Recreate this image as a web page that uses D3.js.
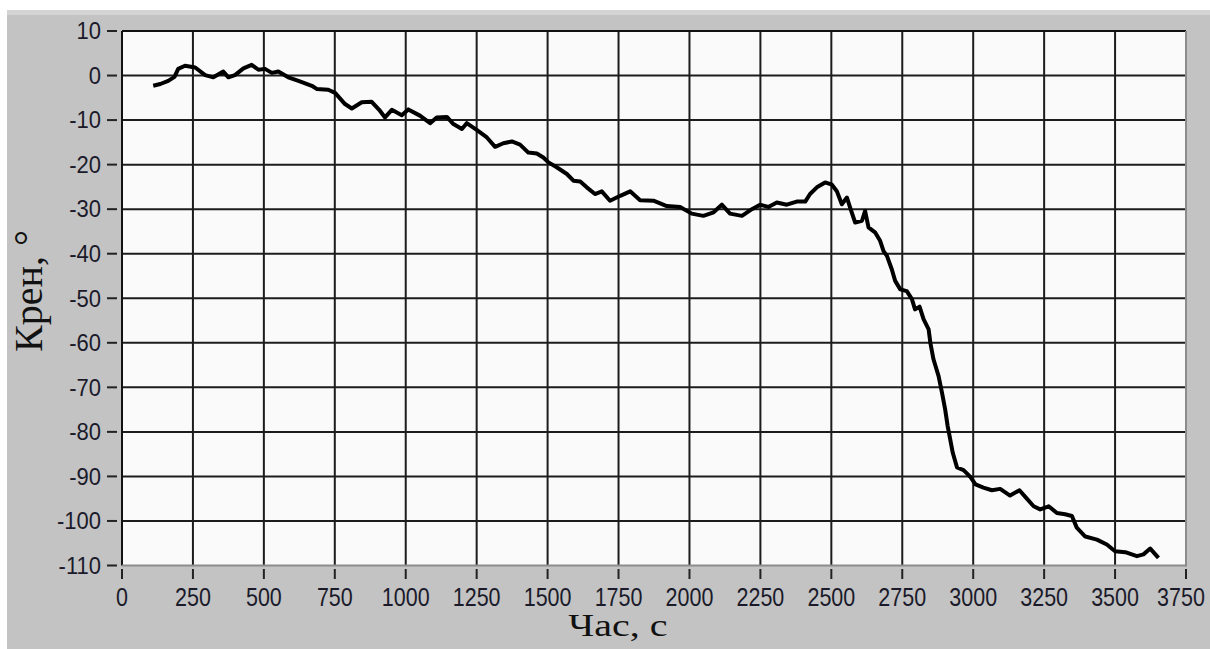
<!DOCTYPE html>
<html><head><meta charset="utf-8">
<script src="https://cdn.jsdelivr.net/npm/d3@7"></script>
<style>html,body{margin:0;padding:0;background:#fff;overflow:hidden}</style>
</head><body>
<svg id="c" width="1210" height="649"></svg>
<script>
const time = [110,135,163,185,198,222,258,293,322,357,375,398,428,457,481,504,528,551,586,622,669,686,727,751,786,810,845,880,909,927,951,986,1009,1050,1086,1109,1145,1168,1198,1215,1250,1286,1315,1344,1374,1403,1432,1462,1485,1503,1532,1568,1591,1615,1638,1667,1691,1720,1756,1791,1826,1873,1920,1967,2008,2049,2085,2114,2143,2185,2220,2249,2278,2308,2343,2378,2408,2425,2449,2478,2502,2519,2537,2555,2566,2584,2608,2619,2631,2654,2672,2684,2696,2713,2725,2743,2766,2784,2795,2811,2825,2843,2849,2860,2878,2890,2901,2910,2919,2928,2943,2966,2990,3008,3036,3066,3095,3130,3163,3189,3213,3236,3266,3295,3324,3348,3365,3395,3436,3471,3500,3536,3577,3600,3624,3653];
const kren = [-2.3,-1.9,-1.2,-0.3,1.5,2.2,1.8,0.1,-0.4,0.9,-0.4,0.1,1.6,2.4,1.3,1.5,0.6,0.9,-0.4,-1.2,-2.3,-3.0,-3.2,-3.9,-6.4,-7.4,-6.0,-5.9,-7.9,-9.4,-7.7,-8.9,-7.6,-9.0,-10.7,-9.4,-9.3,-10.9,-12.0,-10.7,-12.2,-13.9,-16.0,-15.2,-14.8,-15.5,-17.3,-17.5,-18.4,-19.5,-20.6,-22.1,-23.6,-23.8,-25.1,-26.6,-26.0,-28.1,-27.0,-26.0,-28.0,-28.1,-29.3,-29.5,-31.0,-31.5,-30.7,-29.0,-31.0,-31.5,-30.0,-29.0,-29.5,-28.5,-29.0,-28.3,-28.3,-26.6,-25.1,-24.0,-24.5,-25.9,-28.9,-27.4,-29.6,-33.0,-32.6,-30.4,-34.1,-35.2,-37.1,-39.4,-40.5,-43.5,-46.1,-48.0,-48.4,-50.2,-52.5,-51.9,-54.7,-57.0,-60.0,-63.7,-67.5,-71.2,-74.9,-78.7,-81.7,-84.7,-88.0,-88.6,-90.1,-91.8,-92.5,-93.1,-92.8,-94.3,-93.1,-95.0,-96.7,-97.4,-96.7,-98.2,-98.5,-98.9,-101.5,-103.5,-104.2,-105.3,-106.8,-107.0,-107.9,-107.5,-106.2,-108.3];
const xTicks = [0,250,500,750,1000,1250,1500,1750,2000,2250,2500,2750,3000,3250,3500,3750];
const yTicks = [10,0,-10,-20,-30,-40,-50,-60,-70,-80,-90,-100,-110];
const xTitle = "Час, с";
const yTitle = "Крен, °";

const svg = d3.select("#c");
const L = 122, R = 1186, T = 31, B = 565.5;
const x = d3.scaleLinear().domain([0, 3750]).range([L, R]);
const y = d3.scaleLinear().domain([-110, 10]).range([B, T]);

// panel background
svg.append("rect").attr("x", 7).attr("y", 10).attr("width", 1203).attr("height", 639).attr("fill", "#c3c3c3");
svg.append("rect").attr("x", 7).attr("y", 10).attr("width", 1203).attr("height", 5).attr("fill", "#d4d4d4");

// plot area
svg.append("rect").attr("x", L).attr("y", T).attr("width", R - L).attr("height", B - T).attr("fill", "#fafafa");

// grid
const grid = svg.append("g").attr("stroke", "#1c1c1c").attr("stroke-width", 2);
grid.selectAll("line.v").data(xTicks.filter(d => d > 0 && d < 3750)).join("line")
  .attr("x1", d => x(d)).attr("x2", d => x(d)).attr("y1", T).attr("y2", B);
grid.selectAll("line.h").data(yTicks.filter(d => d < 10 && d > -110)).join("line")
  .attr("y1", d => y(d)).attr("y2", d => y(d)).attr("x1", L).attr("x2", R);

// border
svg.append("line").attr("x1", L).attr("x2", R).attr("y1", T).attr("y2", T).attr("stroke", "#111").attr("stroke-width", 2);
svg.append("line").attr("x1", L).attr("x2", L).attr("y1", T).attr("y2", B).attr("stroke", "#111").attr("stroke-width", 2);
svg.append("line").attr("x1", R).attr("x2", R).attr("y1", T).attr("y2", B+1).attr("stroke", "#8c8c8c").attr("stroke-width", 2);
svg.append("line").attr("x1", L).attr("x2", R).attr("y1", B).attr("y2", B).attr("stroke", "#8c8c8c").attr("stroke-width", 2);

// curve
const data = time.map((t, i) => [t, kren[i]]);
svg.append("path").datum(data)
  .attr("d", d3.line().x(d => x(d[0])).y(d => y(d[1])))
  .attr("fill", "none").attr("stroke", "#000").attr("stroke-width", 4).attr("stroke-linejoin", "round");

// y axis ticks
const yAx = svg.append("g");
yAx.selectAll("line").data(yTicks).join("line")
  .attr("x1", 107).attr("x2", 117).attr("y1", d => y(d)).attr("y2", d => y(d))
  .attr("stroke", "#222").attr("stroke-width", 2);
yAx.selectAll("text").data(yTicks).join("text")
  .attr("transform", d => `translate(101,${y(d)}) scale(1,1.05)`).attr("dy", "0.36em")
  .attr("text-anchor", "end")
  .attr("font-family", "Liberation Sans, Arial, sans-serif").attr("font-size", 22)
  .attr("fill", "#1a1a2a").text(d => d);

// x axis ticks
const xAx = svg.append("g");
xAx.selectAll("line").data(xTicks).join("line")
  .attr("x1", d => x(d)).attr("x2", d => x(d)).attr("y1", 569).attr("y2", 579)
  .attr("stroke", "#222").attr("stroke-width", 2);
xAx.selectAll("text").data(xTicks).join("text")
  .attr("transform", d => `translate(${Math.min(x(d), 1181)},606) scale(1,1.2)`)
  .attr("text-anchor", "middle")
  .attr("font-family", "Liberation Sans, Arial, sans-serif").attr("font-size", 21.5)
  .attr("fill", "#1a1a2a").text(d => d);

// titles
svg.append("text")
  .attr("transform", "translate(618,636) scale(1.25,1)")
  .attr("text-anchor", "middle")
  .attr("font-family", "Liberation Serif, Times New Roman, serif").attr("font-size", 32)
  .attr("fill", "#111").text(xTitle);
svg.append("text")
  .attr("transform", "translate(42,291) rotate(-90)")
  .attr("text-anchor", "middle")
  .attr("font-family", "Liberation Serif, Times New Roman, serif").attr("font-size", 40)
  .attr("fill", "#111").text(yTitle);
</script>
</body></html>
